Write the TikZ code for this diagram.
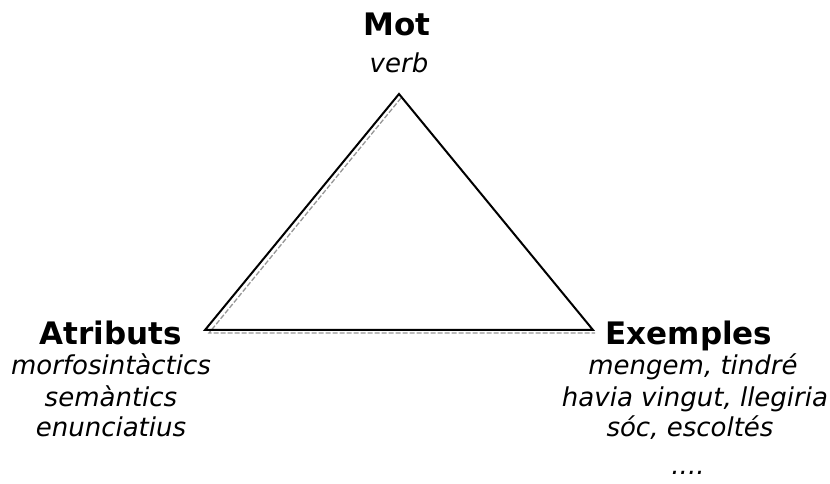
\documentclass[tikz,border=0pt]{standalone}
\usepackage{fontspec}
\setmainfont{DejaVu Sans}
\usepackage{xcolor}
\usetikzlibrary{positioning, calc}
\definecolor{ink}{RGB}{0,0,0}
\definecolor{shade}{RGB}{150,150,150}

\begin{document}
\begin{tikzpicture}[
  x=1pt, y=1pt,
  hd/.style={anchor=base, inner sep=0pt,
             font=\fontsize{31}{37}\selectfont\bfseries},
  it/.style={anchor=base, inner sep=0pt,
             font=\fontsize{26}{31}\selectfont\itshape},
  edge/.style={draw=ink, line width=2pt, line join=miter},
  shd/.style={draw=shade, line width=1.3pt,
              dash pattern=on 5pt off 2pt}]
  \useasboundingbox (0,0) rectangle (830,484);
  \coordinate (mot) at (399,390);
  \coordinate (atr) at (205,154);
  \coordinate (exm) at (593,154);
  \draw[shd] ($(mot)+(2,-4)$) -- ($(atr)+(4,-3)$) -- ($(exm)+(2,-3)$);
  \draw[edge] (mot) -- (atr) -- (exm) -- cycle;
  \node[hd] (lmot) at (397,448) {Mot};
  \node[it] (lverb) at (399,411) {verb};
  \node[hd] (latr) at (111,139) {Atributs};
  \node[it] (la1) at (111,109) {morfosintàctics};
  \node[it] (la2) at (111,77) {semàntics};
  \node[it] (la3) at (111,47) {enunciatius};
  \node[hd] (lexm) at (689,139) {Exemples};
  \node[it] (le1) at (693,109) {mengem, tindré};
  \node[it] (le2) at (695,77) {havia vingut, llegiria};
  \node[it] (le3) at (690,47) {sóc, escoltés};
  \node[it] (le4) at (688,9) {....};
\end{tikzpicture}
\end{document}
